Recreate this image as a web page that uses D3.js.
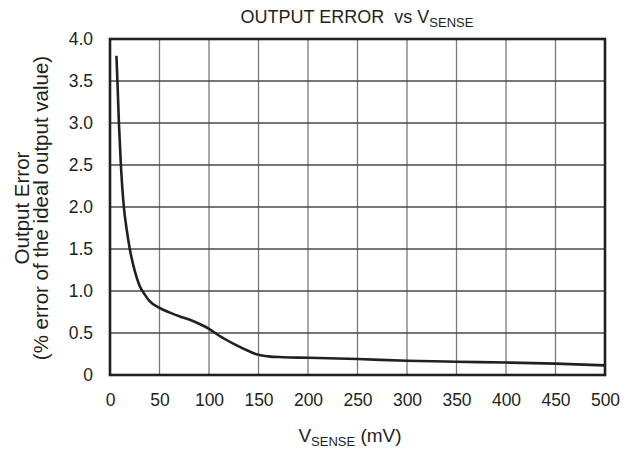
<!DOCTYPE html>
<html>
<head>
<meta charset="utf-8">
<style>
    body { margin: 0; background: #fff; }
    svg { font-family: 'Liberation Sans', Arial, sans-serif; }
    .tick text { font-size: 17.5px; fill: #231f20; }
    .grid line { stroke: #7a7a7a; stroke-width: 1.3px; }
    text { white-space: pre; }
</style>
</head>
<body>
<svg width="630" height="451"></svg>
<script src="https://d3js.org/d3.v7.min.js"></script>
<script>
    // values
    let vsense = [6.5, 7.5, 9, 11, 14, 17, 20, 25, 30, 35, 40, 50, 60, 70, 80, 90, 100, 110, 125, 140, 150, 160, 175, 200, 250, 300, 350, 400, 450, 500]
    let outErr = [3.80, 3.5, 3.0, 2.5, 2.0, 1.72, 1.5, 1.24, 1.06, 0.96, 0.88, 0.80, 0.745, 0.70, 0.66, 0.61, 0.55, 0.47, 0.37, 0.285, 0.24, 0.222, 0.212, 0.205, 0.19, 0.17, 0.158, 0.148, 0.135, 0.115]

    let xTicks = [0, 50, 100, 150, 200, 250, 300, 350, 400, 450, 500]
    let yTicks = [0, 0.5, 1.0, 1.5, 2.0, 2.5, 3.0, 3.5, 4.0]

    let margin = { top: 39, right: 25, bottom: 76, left: 110 }
    let width = 630, height = 451

    let svg = d3.select("svg")

    let x = d3.scaleLinear().domain([0, 500]).range([margin.left, width - margin.right])
    let y = d3.scaleLinear().domain([0, 4]).range([height - margin.bottom, margin.top])

    // grid
    svg.append("g").attr("class", "grid")
        .selectAll("line").data(xTicks.slice(1, -1)).join("line")
        .attr("x1", d => x(d)).attr("x2", d => x(d))
        .attr("y1", y(0)).attr("y2", y(4))
    svg.append("g").attr("class", "grid")
        .selectAll("line").data(yTicks.slice(1, -1)).join("line")
        .attr("x1", x(0)).attr("x2", x(500))
        .attr("y1", d => y(d)).attr("y2", d => y(d))
        .style("stroke", "#4a4a4a")

    // axes (labels only)
    svg.append("g")
        .attr("transform", `translate(0,${y(0)})`)
        .call(d3.axisBottom(x).tickValues(xTicks).tickSize(0).tickPadding(19).tickFormat(d3.format("d")))
        .call(g => g.select(".domain").remove())

    svg.append("g")
        .attr("transform", `translate(${x(0)},0)`)
        .call(d3.axisLeft(y).tickValues(yTicks).tickSize(0).tickPadding(17)
            .tickFormat(d => d === 0 ? "0" : d3.format(".1f")(d)))
        .call(g => g.select(".domain").remove())

    // curve
    let line = d3.line()
        .x((d, i) => x(vsense[i]))
        .y(d => y(d))
        .curve(d3.curveMonotoneX)

    svg.append("path")
        .attr("d", line(outErr))
        .attr("fill", "none")
        .attr("stroke", "#231f20")
        .attr("stroke-width", 2.6)

    // frame
    svg.append("rect")
        .attr("x", x(0)).attr("y", y(4))
        .attr("width", x(500) - x(0)).attr("height", y(0) - y(4))
        .attr("fill", "none")
        .attr("stroke", "#231f20")
        .attr("stroke-width", 2.6)

    // title
    let title = svg.append("text")
        .attr("x", 357).attr("y", 23)
        .attr("text-anchor", "middle")
        .attr("font-size", "18px")
        .attr("fill", "#231f20")
    title.append("tspan").text("OUTPUT ERROR  vs V")
    title.append("tspan").text("SENSE").attr("font-size", "13px").attr("dy", 4)

    // x title
    let xt = svg.append("text")
        .attr("x", 350).attr("y", 442)
        .attr("text-anchor", "middle")
        .attr("font-size", "19px")
        .attr("fill", "#231f20")
    xt.append("tspan").text("V")
    xt.append("tspan").text("SENSE").attr("font-size", "13px").attr("dy", 4)
    xt.append("tspan").text(" (mV)").attr("dy", -4)

    // y title
    let yt = svg.append("text")
        .attr("transform", "translate(0,208) rotate(-90)")
        .attr("text-anchor", "middle")
        .attr("font-size", "20.5px")
        .attr("fill", "#231f20")
    yt.append("tspan").text("Output Error").attr("x", 0).attr("y", 29)
    yt.append("tspan").text("(% error of the ideal output value)").attr("x", 0).attr("y", 48)
</script>
</body>
</html>
